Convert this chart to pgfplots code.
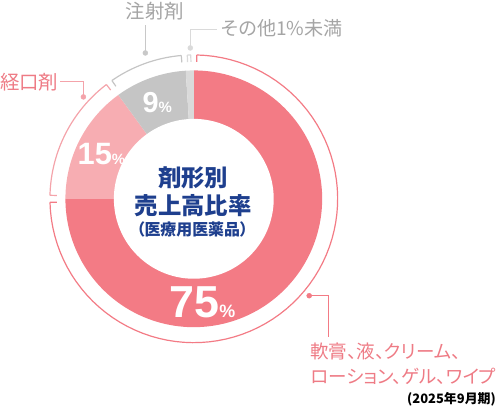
\documentclass[border=0pt]{standalone}
\usepackage{pgfplots}
\pgfplotsset{compat=1.18}
\usepackage{fontspec}
\setmainfont{Liberation Sans}
\newfontfamily\jp{Noto Sans CJK JP}
\newfontfamily\jpp[RawFeature=+palt]{Noto Sans CJK JP}
\definecolor{pinkA}{HTML}{F37B85}
\definecolor{pinkB}{HTML}{F7ADB2}
\definecolor{grayA}{HTML}{C5C5C5}
\definecolor{grayB}{HTML}{DADADA}
\definecolor{pinkT}{HTML}{EE7B85}
\definecolor{pinkL}{HTML}{F4A3AA}
\definecolor{grayT}{HTML}{A5A5A5}
\definecolor{grayL}{HTML}{C8C8C8}
\definecolor{navy}{HTML}{1E3F8E}
\newcommand{\seg}[3]{%
  \addplot[#1, line width=1.2bp, domain=#2:#3, samples=80] ({193.5+144*cos(x)},{211+144*sin(x)});
  \addplot[#1, line width=1.2bp, domain=137:144, samples=2] ({193.5+x*cos(#2)},{211+x*sin(#2)});
  \addplot[#1, line width=1.2bp, domain=137:144, samples=2] ({193.5+x*cos(#3)},{211+x*sin(#3)});
}
\begin{document}
\begin{tikzpicture}
\begin{axis}[width=499bp, height=410bp, scale only axis,
  xmin=0, xmax=499, ymin=0, ymax=410, hide axis, clip=false]
\path (axis cs:0,0) rectangle (axis cs:499,410);
% shares: 75, 15, 9, 1 (%) -> angles clockwise from 90 deg
\addplot[fill=pinkA, draw=none, domain=-180:90, samples=150] ({193.5+128.5*cos(x)},{211+128.5*sin(x)}) -- (axis cs:193.5,211) -- cycle;
\addplot[fill=pinkB, draw=none, domain=126:180, samples=40] ({193.5+128.5*cos(x)},{211+128.5*sin(x)}) -- (axis cs:193.5,211) -- cycle;
\addplot[fill=grayA, draw=none, domain=93.6:126, samples=30] ({193.5+128.5*cos(x)},{211+128.5*sin(x)}) -- (axis cs:193.5,211) -- cycle;
\addplot[fill=grayB, draw=none, domain=90:93.6, samples=5] ({193.5+128.5*cos(x)},{211+128.5*sin(x)}) -- (axis cs:193.5,211) -- cycle;
\addplot[fill=white, draw=none, domain=0:360, samples=150] ({193.5+80*cos(x)},{211+80*sin(x)}) -- cycle;
% outer thin arcs
\seg{pinkA}{-178.6}{88.8}
\seg{pinkL}{127.4}{178.6}
\seg{grayA}{95.0}{124.7}
\seg{grayB}{91.2}{92.6}
% leaders
\addplot[pinkL, line width=1bp] coordinates {(83,313) (83,328) (60,328)};
\addplot[pinkL, only marks, mark=*, mark size=2.5bp] coordinates {(83,313)};
\addplot[grayL, line width=1bp] coordinates {(145,357) (145,385)};
\addplot[grayL, only marks, mark=*, mark size=2.5bp] coordinates {(145,357)};
\addplot[grayB, line width=1bp] coordinates {(190,362) (190,380) (217,380)};
\addplot[grayB, only marks, mark=*, mark size=2.5bp] coordinates {(190,362)};
\addplot[pinkA, line width=1bp] coordinates {(309,114) (328,114) (328,73)};
\addplot[pinkA, only marks, mark=*, mark size=2.5bp] coordinates {(309,114)};
% percentage labels
\node[anchor=base west, inner sep=0, text=white] at (axis cs:169,92) {\fontsize{45}{45}\selectfont\bfseries 75\fontsize{18}{18}\selectfont\%};
\node[anchor=base west, inner sep=0, text=white] at (axis cs:77,245) {\fontsize{31}{31}\selectfont\bfseries 15\fontsize{15}{15}\selectfont\%};
\node[anchor=base west, inner sep=0, text=white] at (axis cs:142,297) {\fontsize{29}{29}\selectfont\bfseries 9\fontsize{15}{15}\selectfont\%};
% centre title
\node[inner sep=0, text=navy] at (axis cs:193,232) {\jp\bfseries\fontsize{23.5}{23.5}\selectfont 剤形別};
\node[inner sep=0, text=navy] at (axis cs:193,204) {\jp\bfseries\fontsize{23.5}{23.5}\selectfont 売上高比率};
\node[inner sep=0, text=navy] at (axis cs:192,180) {\jpp\bfseries\fontsize{16}{16}\selectfont （医療用医薬品）};
% category labels
\node[anchor=east, inner sep=0, text=pinkT] at (axis cs:58,328) {\jpp\fontsize{19.5}{19.5}\selectfont 経口剤};
\node[inner sep=0, text=grayT] at (axis cs:154.5,399) {\jpp\fontsize{19.5}{19.5}\selectfont 注射剤};
\node[anchor=west, inner sep=0, text=grayT] at (axis cs:221,382) {\jpp\fontsize{19.2}{19.2}\selectfont その他1\%未満};
\node[anchor=west, inner sep=0, text=pinkT] at (axis cs:310,58) {\jpp\fontsize{18.6}{18.6}\selectfont 軟膏、液、クリーム、};
\node[anchor=west, inner sep=0, text=pinkT] at (axis cs:310,33) {\jpp\fontsize{18.6}{18.6}\selectfont ローション、ゲル、ワイプ};
\node[anchor=east, inner sep=0, text=black] at (axis cs:496,10) {\jpp\bfseries\fontsize{13}{13}\selectfont (2025年9月期)};
\end{axis}
\end{tikzpicture}
\end{document}
